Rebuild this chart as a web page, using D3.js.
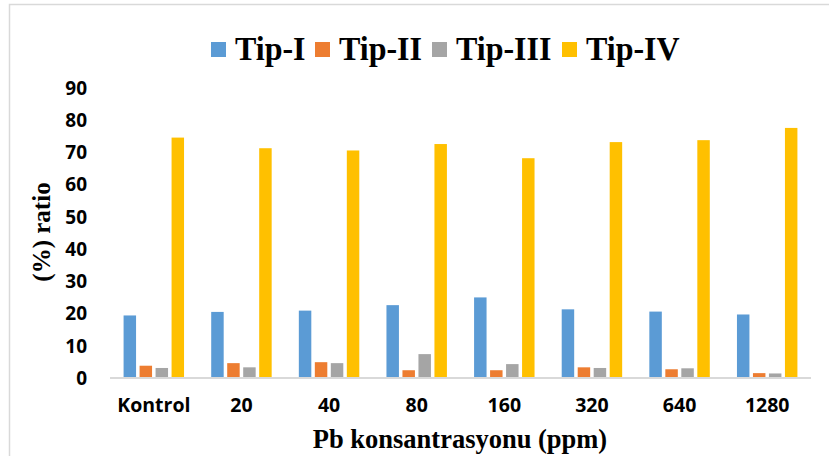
<!DOCTYPE html>
<html>
<head>
<meta charset="utf-8">
<script src="https://cdn.jsdelivr.net/npm/d3@7"></script>
<style>
  html, body { margin: 0; padding: 0; background: #fff; }
  svg { display: block; }
</style>
</head>
<body>
<svg id="chart" width="829" height="456"></svg>
<script>
const categories = ["Kontrol", "20", "40", "80", "160", "320", "640", "1280"];
const seriesNames = ["Tip-I", "Tip-II", "Tip-III", "Tip-IV"];
const tipI   = [19.1, 20.2, 20.6, 22.3, 24.7, 21.0, 20.3, 19.4];
const tipII  = [3.5, 4.3, 4.6, 2.1, 2.1, 3.0, 2.4, 1.2];
const tipIII = [2.8, 3.0, 4.3, 7.1, 4.0, 2.8, 2.7, 1.1];
const tipIV  = [74.3, 71.0, 70.3, 72.3, 67.9, 72.9, 73.5, 77.3];
const yTicks = [0, 10, 20, 30, 40, 50, 60, 70, 80, 90];
const colors = ["#5B9BD5", "#ED7D31", "#A5A5A5", "#FFC000"];
const xTitle = "Pb konsantrasyonu (ppm)";
const yTitle = "(%) ratio";

const values = [tipI, tipII, tipIII, tipIV];
const svg = d3.select("#chart");

// chart frame
svg.append("rect")
  .attr("x", 9.5).attr("y", 4.5)
  .attr("width", 840).attr("height", 470)
  .attr("fill", "#fff").attr("stroke", "#D9D9D9").attr("stroke-width", 1.5);

const plot = { left: 110, right: 811, top: 87, bottom: 377 };

const x0 = d3.scaleBand().domain(categories).range([plot.left, plot.right]).padding(0);
const groupW = x0.bandwidth() * 0.69;
const x1 = d3.scaleBand().domain(seriesNames).range([0, groupW]).paddingInner(0.22).paddingOuter(0);
const y = d3.scaleLinear().domain([0, 90]).range([plot.bottom, plot.top]);
const color = d3.scaleOrdinal().domain(seriesNames).range(colors);

// bars
const groups = svg.append("g").selectAll("g")
  .data(categories)
  .join("g")
  .attr("transform", d => `translate(${x0(d) + (x0.bandwidth() - groupW) / 2},0)`);

groups.selectAll("rect")
  .data((c, i) => seriesNames.map((s, k) => ({ s, v: values[k][i] })))
  .join("rect")
  .attr("x", d => x1(d.s))
  .attr("width", x1.bandwidth())
  .attr("y", d => y(d.v))
  .attr("height", d => y(0) - y(d.v))
  .attr("fill", d => color(d.s));

// x axis line
svg.append("line")
  .attr("x1", plot.left).attr("x2", plot.right)
  .attr("y1", y(0) + 1).attr("y2", y(0) + 1)
  .attr("stroke", "#D9D9D9").attr("stroke-width", 2);

// y axis labels
const yAxis = d3.axisLeft(y).tickValues(yTicks).tickSize(0).tickPadding(0);
const yg = svg.append("g").attr("transform", `translate(${87},0)`).call(yAxis);
yg.select(".domain").remove();
yg.selectAll("text")
  .attr("font-family", "'Open Sans', sans-serif")
  .attr("font-weight", 700)
  .attr("font-size", 19)
  .attr("fill", "#000")
  .attr("dy", "0.38em");

// x axis labels
const xAxis = d3.axisBottom(x0).tickSize(0).tickPadding(0);
const xg = svg.append("g").attr("transform", `translate(0,${398})`).call(xAxis);
xg.select(".domain").remove();
xg.selectAll("text")
  .attr("font-family", "'Open Sans', sans-serif")
  .attr("font-weight", 700)
  .attr("font-size", 19.5)
  .attr("fill", "#000")
  .attr("dy", "0.71em");

// axis titles
svg.append("text")
  .attr("transform", "translate(460,448) scale(1,1.05)")
  .attr("text-anchor", "middle")
  .attr("font-family", "'Liberation Serif', 'Times New Roman', serif")
  .attr("font-weight", 700).attr("font-size", 26.5)
  .text(xTitle);

svg.append("text")
  .attr("transform", `translate(50,232) rotate(-90)`)
  .attr("text-anchor", "middle")
  .attr("font-family", "'Liberation Serif', 'Times New Roman', serif")
  .attr("font-weight", 700).attr("font-size", 25)
  .text(yTitle);

// legend
const legendX = [211, 315, 432, 562];
const legend = svg.append("g").selectAll("g")
  .data(seriesNames)
  .join("g")
  .attr("transform", (d, i) => `translate(${legendX[i]},0)`);
legend.append("rect")
  .attr("x", 0).attr("y", 42).attr("width", 15).attr("height", 15)
  .attr("fill", d => color(d));
legend.append("text")
  .attr("transform", "translate(24,60) scale(1,1.07)")
  .attr("font-family", "'Liberation Serif', 'Times New Roman', serif")
  .attr("font-weight", 700).attr("font-size", 32)
  .text(d => d);
</script>
</body>
</html>
